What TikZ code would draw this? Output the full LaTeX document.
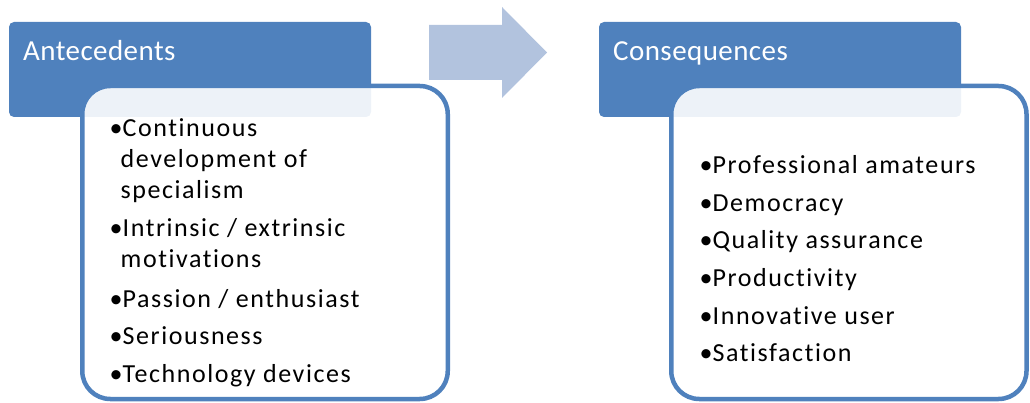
\documentclass[tikz,border=0pt]{standalone}
\usepackage{fontspec}
\setmainfont{Carlito}[Ligatures=CommonOff]
\newfontfamily\bodyfont{Carlito}[LetterSpace=6, Ligatures=CommonOff]
\newfontfamily\titlefont{Carlito}[LetterSpace=1.5, Ligatures=CommonOff]
\definecolor{hdrblue}{RGB}{79,129,189}
\definecolor{arrowblue}{RGB}{178,195,222}
\tikzset{
  hdrbox/.style={fill=hdrblue, draw=none, rounded corners=5pt},
  bodybox/.style={draw=hdrblue, line width=4.5pt, fill=white, fill opacity=0.9, draw opacity=1, rounded corners=28pt},
  hdrtext/.style={anchor=base west, inner sep=0pt, text=white, font=\titlefont\fontsize{29}{34}\selectfont},
  itemtext/.style={anchor=base west, inner sep=0pt, font=\bodyfont\fontsize{26}{31}\selectfont},
  bul/.style={anchor=base west, inner sep=0pt, font=\fontsize{26}{31}\selectfont},
}
\begin{document}
\begin{tikzpicture}[x=1pt,y=-1pt]
\useasboundingbox (0,0) rectangle (1030,403);
% headers
\path[hdrbox] (9,22) rectangle (371,117);
\path[hdrbox] (599,22) rectangle (961,117);
% body boxes
\draw[bodybox] (82.25,86) rectangle (447.75,399);
\draw[bodybox] (671.25,86) rectangle (1026.5,399);
% arrow
\fill[arrowblue] (429,25) -- (502,25) -- (502,7) -- (547,52.5) -- (502,98) -- (502,80) -- (429,80) -- cycle;
% header texts
\node[hdrtext] (ant) at (23,61) {Antecedents};
\node[hdrtext] (con) at (613,61) {Consequences};
% left items
\node[bul] (lb1) at (109.5,137) {•};
\node[itemtext] (l1a) at (122.5,137) {Continuous};
\node[itemtext] (l1b) at (120.5,168) {development of};
\node[itemtext] (l1c) at (120.5,199) {specialism};
\node[bul] (lb2) at (109.5,237) {•};
\node[itemtext] (l2a) at (122.5,237) {Intrinsic / extrinsic};
\node[itemtext] (l2b) at (120.5,268) {motivations};
\node[bul] (lb3) at (109.5,307) {•};
\node[itemtext] (l3) at (122.5,307) {Passion / enthusiast};
\node[bul] (lb4) at (109.5,344.5) {•};
\node[itemtext] (l4) at (122.5,344.5) {Seriousness};
\node[bul] (lb5) at (109.5,382) {•};
\node[itemtext] (l5) at (122.5,382) {Technology devices};
% right items
\node[bul] (rb1) at (699.5,174) {•};
\node[itemtext] (r1) at (712.5,174) {Professional amateurs};
\node[bul] (rb2) at (699.5,211.5) {•};
\node[itemtext] (r2) at (712.5,211.5) {Democracy};
\node[bul] (rb3) at (699.5,249) {•};
\node[itemtext] (r3) at (712.5,249) {Quality assurance};
\node[bul] (rb4) at (699.5,286.5) {•};
\node[itemtext] (r4) at (712.5,286.5) {Productivity};
\node[bul] (rb5) at (699.5,324) {•};
\node[itemtext] (r5) at (712.5,324) {Innovative user};
\node[bul] (rb6) at (699.5,361.5) {•};
\node[itemtext] (r6) at (712.5,361.5) {Satisfaction};
\end{tikzpicture}
\end{document}
